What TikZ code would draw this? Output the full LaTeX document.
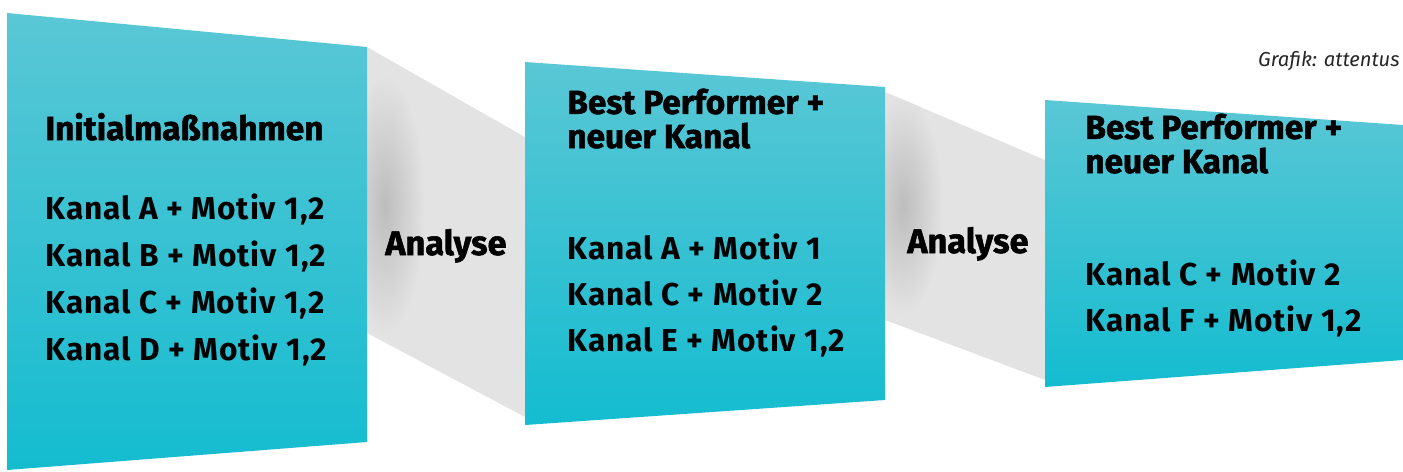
\documentclass[tikz,border=0pt]{standalone}
\usepackage{fontspec}
\setmainfont{Fira Sans}
\newfontfamily\heavyfont{Fira Sans}[BoldFeatures={FakeBold=1.5}]
\newfontfamily\itemfont{Fira Sans}[LetterSpace=3]
\usepackage{tikz}
\usetikzlibrary{positioning}

\definecolor{cyantop}{HTML}{5AC7D5}
\definecolor{cyanbot}{HTML}{14BCD0}
\definecolor{bandgray}{HTML}{E3E3E3}
\definecolor{shadowgray}{HTML}{BDBDBD}

\begin{document}
\begin{tikzpicture}[x=0.02cm, y=-0.02cm,
panel/.style={top color=cyantop, bottom color=cyanbot, draw=none},
band/.style={fill=bandgray, draw=none},
headtxt/.style={anchor=base west, inner sep=0pt, align=left, font=\heavyfont\fontsize{19}{19.4}\selectfont\bfseries},
itemtxt/.style={anchor=base west, inner sep=0pt, font=\itemfont\fontsize{18}{20}\selectfont\bfseries},
steptxt/.style={anchor=base west, inner sep=0pt, font=\heavyfont\fontsize{19.5}{22}\selectfont\bfseries},
credit/.style={anchor=base east, inner sep=0pt, font=\fontsize{11.5}{14}\selectfont\itshape, text=black!85}]

\useasboundingbox (0,0) rectangle (1403,471);

% grey bands
\begin{scope}
\clip (367,47) -- (525,137) -- (525,417) -- (367,333) -- cycle;
\fill[bandgray] (367,47) rectangle (525,417);
\shade[inner color=shadowgray, outer color=bandgray] (385,205) ellipse [x radius=40, y radius=130];
\end{scope}
\begin{scope}
\clip (885,92) -- (1045,160) -- (1045,380) -- (885,320) -- cycle;
\fill[bandgray] (885,92) rectangle (1045,380);
\shade[inner color=shadowgray, outer color=bandgray] (903,205) ellipse [x radius=40, y radius=110];
\end{scope}

% panels
\shade[panel] (7,13) -- (367,47) -- (367,442) -- (7,470) -- cycle;
\shade[panel] (525,62) -- (885,87) -- (885,400) -- (525,425) -- cycle;
\shade[panel] (1045,100) -- (1403,125) -- (1403,360) -- (1045,387) -- cycle;

% panel 1
\node[headtxt] (init) at (45,140) {Initialmaßnahmen};
\node[itemtxt] (a1) at (45,219) {Kanal A + Motiv 1,2};
\node[itemtxt] (b1) at (45,266) {Kanal B + Motiv 1,2};
\node[itemtxt] (c1) at (45,313) {Kanal C + Motiv 1,2};
\node[itemtxt] (d1) at (45,360) {Kanal D + Motiv 1,2};

% panel 2
\node[headtxt] (best1) at (567,148) {Best Performer +\\neuer Kanal};
\node[itemtxt] (a2) at (567,259) {Kanal A + Motiv 1};
\node[itemtxt] (c2) at (567,305) {Kanal C + Motiv 2};
\node[itemtxt] (e2) at (567,351) {Kanal E + Motiv 1,2};

% panel 3
\node[headtxt] (best2) at (1085,173) {Best Performer +\\neuer Kanal};
\node[itemtxt] (c3) at (1085,285) {Kanal C + Motiv 2};
\node[itemtxt] (f3) at (1085,331) {Kanal F + Motiv 1,2};

% analysis steps
\node[steptxt] (ana1) at (385,255) {Analyse};
\node[steptxt] (ana2) at (907,253) {Analyse};

\node[credit] (src) at (1400,66) {Grafik: attentus};

\end{tikzpicture}
\end{document}
